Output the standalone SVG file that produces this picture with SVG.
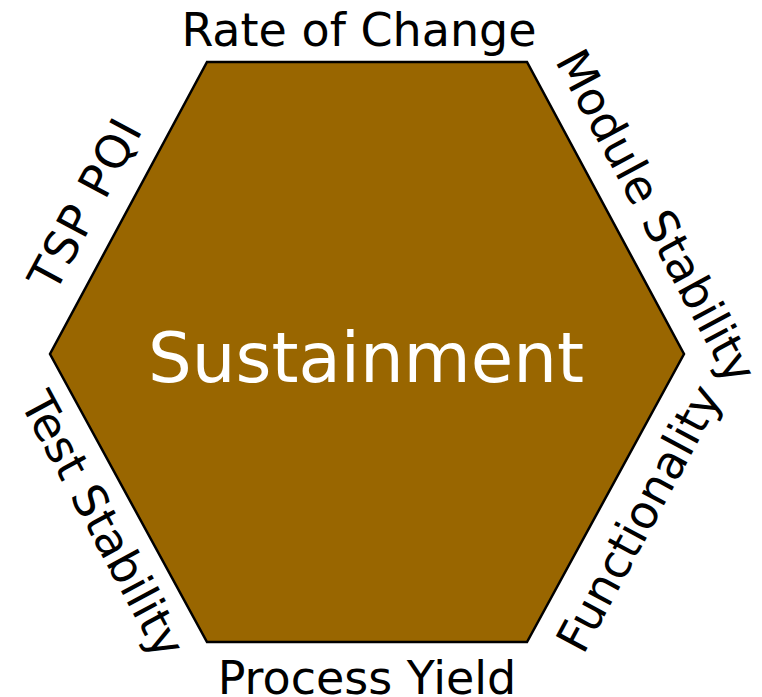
<svg xmlns="http://www.w3.org/2000/svg" width="762" height="697" viewBox="0 0 762 697">
<style>
.lbl{font-family:"DejaVu Sans","Verdana",sans-serif;font-size:46px;fill:#000;text-anchor:middle}
.core{font-family:"DejaVu Sans","Verdana",sans-serif;font-size:69px;fill:#fff;text-anchor:middle}
</style>
<rect width="762" height="697" fill="#fff"/>
<g id="hexagon">
<polygon points="207,62 527,62 684,354 527,642 207,642 50,354" fill="#996600" stroke="#000" stroke-width="2.5" stroke-linejoin="miter"/>
<text class="core" x="366" y="382">Sustainment</text>
</g>
<g id="rate-of-change"><text class="lbl" x="359" y="46">Rate of Change</text></g>
<g id="module-stability"><text class="lbl" transform="translate(642.1,223.8) rotate(61.72)">Module Stability</text></g>
<g id="functionality"><text class="lbl" transform="translate(653,526) rotate(-61.72)">Functionality</text></g>
<g id="process-yield"><text class="lbl" x="367" y="694">Process Yield</text></g>
<g id="test-stability"><text class="lbl" transform="translate(89,532) rotate(61.72)">Test Stability</text></g>
<g id="tsp-pqi"><text class="lbl" transform="translate(99,212) rotate(-61.72)" textLength="186" lengthAdjust="spacing">TSP PQI</text></g>
<g id="connectors"></g>
</svg>
